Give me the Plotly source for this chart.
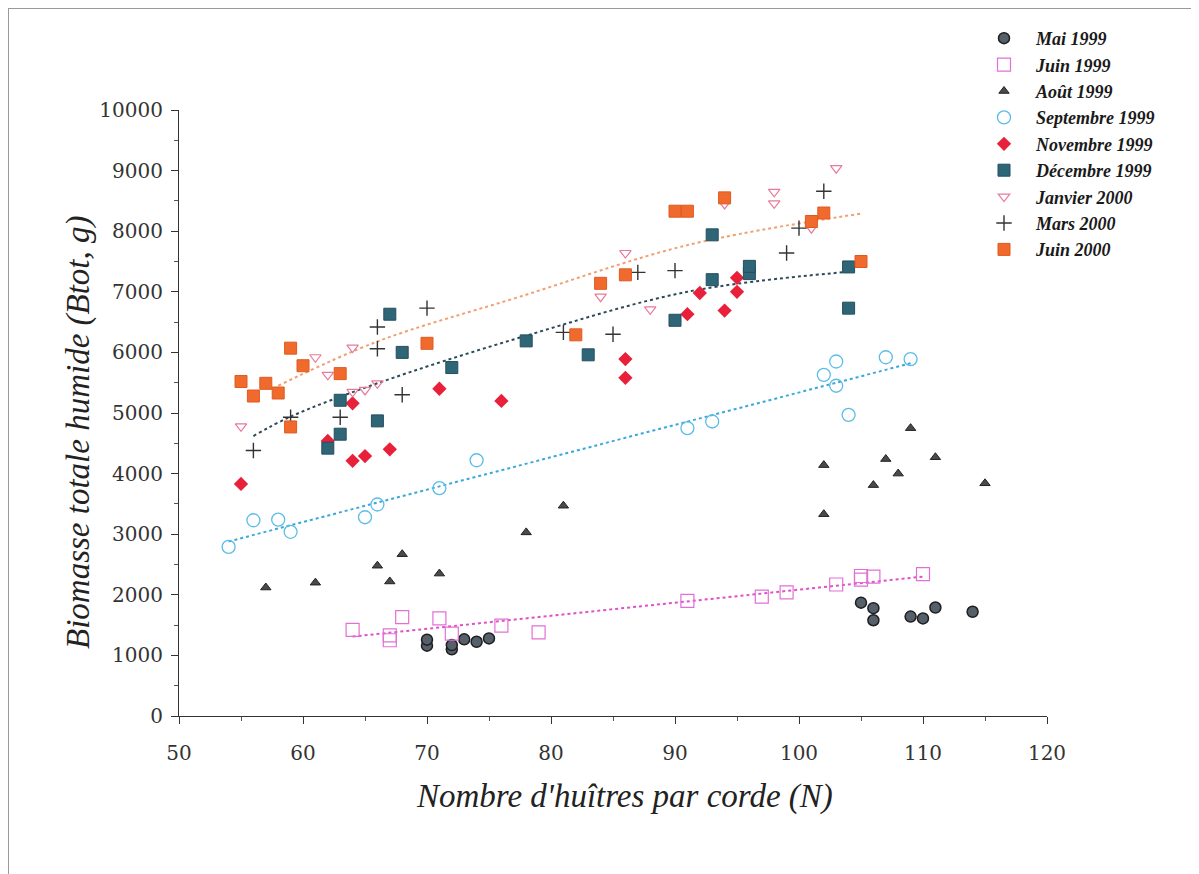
import plotly.graph_objects as go

# ---- data ----
mai99_x = [70, 70, 72, 72, 73, 74, 75, 105, 106, 106, 109, 110, 111, 114]
mai99_y = [1160, 1260, 1100, 1170, 1265, 1225, 1280, 1870, 1780, 1580, 1640, 1610, 1790, 1720]

juin99_x = [64, 67, 67, 68, 71, 72, 76, 79, 91, 97, 99, 103, 105, 105, 106, 110]
juin99_y = [1420, 1250, 1330, 1630, 1610, 1360, 1490, 1380, 1900, 1970, 2040, 2170, 2250, 2310, 2300, 2340]

aout99_x = [57, 61, 66, 67, 68, 71, 78, 81, 102, 102, 106, 107, 108, 109, 111, 115]
aout99_y = [2120, 2200, 2480, 2220, 2670, 2350, 3030, 3470, 3330, 4140, 3810, 4240, 4000, 4750, 4270, 3840]

sept99_x = [54, 56, 58, 59, 65, 66, 71, 74, 91, 93, 102, 103, 103, 104, 107, 109]
sept99_y = [2790, 3230, 3240, 3040, 3280, 3490, 3760, 4220, 4750, 4860, 5630, 5850, 5450, 4970, 5920, 5890]

nov99_x = [55, 62, 64, 64, 65, 67, 71, 76, 86, 86, 91, 92, 94, 95, 95]
nov99_y = [3830, 4540, 4210, 5160, 4290, 4400, 5400, 5200, 5580, 5890, 6630, 6980, 6690, 7000, 7230]

dec99_x = [62, 63, 63, 66, 67, 68, 72, 78, 83, 90, 93, 93, 96, 96, 104, 104]
dec99_y = [4420, 4650, 5210, 4870, 6630, 6000, 5750, 6190, 5960, 6530, 7200, 7940, 7300, 7420, 7410, 6730]

jan00_x = [55, 61, 62, 64, 64, 65, 66, 84, 86, 88, 94, 98, 98, 101, 103]
jan00_y = [4780, 5920, 5630, 5350, 6080, 5380, 5490, 6920, 7640, 6710, 8450, 8460, 8650, 8050, 9040]

mars00_x = [56, 59, 63, 66, 66, 68, 70, 81, 85, 87, 90, 99, 100, 102]
mars00_y = [4380, 4930, 4930, 6060, 6420, 5300, 6730, 6330, 6300, 7320, 7350, 7640, 8050, 8660]

juin00_x = [55, 56, 57, 58, 59, 59, 60, 63, 70, 82, 84, 86, 90, 91, 94, 101, 102, 105]
juin00_y = [5520, 5280, 5490, 5330, 6070, 4770, 5780, 5650, 6150, 6290, 7140, 7280, 8330, 8330, 8550, 8160, 8300, 7500]

# trend lines
trend_juin99_x = [64, 110]
trend_juin99_y = [1310, 2300]
trend_sept99_x = [54, 109]
trend_sept99_y = [2880, 5820]
trend_dark_x = [56, 59, 66, 77.5, 91, 104]
trend_dark_y = [4620, 4940, 5490, 6245, 7000, 7330]
trend_orange_x = [58, 66, 77.5, 91, 105]
trend_orange_y = [5450, 6180, 6920, 7770, 8290]

x_ticks = [50, 60, 70, 80, 90, 100, 110, 120]
y_ticks = [0, 1000, 2000, 3000, 4000, 5000, 6000, 7000, 8000, 9000, 10000]

SERIF = "Liberation Serif"

fig = go.Figure()

# trend lines first (behind markers)
def trend(xs, ys, color):
    fig.add_trace(go.Scatter(x=xs, y=ys, mode="lines", showlegend=False, hoverinfo="skip",
                             line=dict(color=color, width=2, dash="dot", shape="spline")))

trend(trend_juin99_x, trend_juin99_y, "#e050c8")
trend(trend_sept99_x, trend_sept99_y, "#3aa8dc")
trend(trend_dark_x, trend_dark_y, "#2c4a5a")
trend(trend_orange_x, trend_orange_y, "#f0a070")

series = [
    ("Mai 1999", mai99_x, mai99_y, dict(symbol="circle", size=11, color="#56606a", line=dict(color="#1e1e1e", width=1.5))),
    ("Juin 1999", juin99_x, juin99_y, dict(symbol="square-open", size=13, color="#e36fd6", line=dict(width=1.2))),
    ("Août 1999", aout99_x, aout99_y, dict(symbol="triangle-up", size=9, color="#4a4a4a", line=dict(color="#222222", width=1))),
    ("Septembre 1999", sept99_x, sept99_y, dict(symbol="circle-open", size=13, color="#5bbde6", line=dict(width=1.3))),
    ("Novembre 1999", nov99_x, nov99_y, dict(symbol="diamond", size=11, color="#e8203a", line=dict(width=0))),
    ("Décembre 1999", dec99_x, dec99_y, dict(symbol="square", size=12, color="#2e6577", line=dict(color="#254f5e", width=1))),
    ("Janvier 2000", jan00_x, jan00_y, dict(symbol="triangle-down-open", size=10, color="#e87a9a", line=dict(width=1.2))),
    ("Mars 2000", mars00_x, mars00_y, dict(symbol="cross-thin-open", size=11, color="#333333", line=dict(color="#333333", width=1.4))),
    ("Juin 2000", juin00_x, juin00_y, dict(symbol="square", size=12, color="#f06a2e", line=dict(color="#e05a20", width=1))),
]

for i, (name, xs, ys, mk) in enumerate(series):
    fig.add_trace(go.Scatter(x=xs, y=ys, mode="markers", name=name, marker=mk,
                             legendgroup="g%d" % i))

# screen-pixel helpers: the page body adds an 8px offset; plot area spans
# screen x 179..1047 and screen y 110..716
def px(sx):
    return (sx - 179) / 868

def py(sy):
    return (716 - sy) / 606

fig.update_layout(
    width=1199, height=874,
    margin=dict(l=171, r=160, t=102, b=166),
    paper_bgcolor="white", plot_bgcolor="white",
    font=dict(family=SERIF, color="#222222"),
    showlegend=True,
    legend=dict(x=px(972), y=py(20), xanchor="left", yanchor="top",
                font=dict(family=SERIF, size=18, style="italic", weight="bold", color="#1a1a1a"),
                itemwidth=54, tracegroupgap=0, bgcolor="rgba(0,0,0,0)"),
    xaxis=dict(range=[50, 120], tickvals=x_ticks, showgrid=False, zeroline=False,
               showline=True, linecolor="#333333", linewidth=1.2,
               ticks="outside", ticklen=7, tickcolor="#333333", tickwidth=1,
               minor=dict(dtick=5, ticks="outside", ticklen=4, tickcolor="#555555"),
               tickfont=dict(family="DejaVu Serif", size=20, color="#333333"),
               ticklabelstandoff=12),
    yaxis=dict(range=[0, 10000], tickvals=y_ticks, tickformat="d", showgrid=False, zeroline=False,
               showline=True, linecolor="#333333", linewidth=1.2,
               ticks="outside", ticklen=7, tickcolor="#333333", tickwidth=1,
               minor=dict(dtick=500, ticks="outside", ticklen=4, tickcolor="#555555"),
               tickfont=dict(family="DejaVu Serif", size=20, color="#333333"),
               ticklabelstandoff=4),
    annotations=[
        dict(text="Nombre d'huîtres par corde (N)", xref="paper", yref="paper",
             x=px(624), y=py(796), xanchor="center", yanchor="middle",
             showarrow=False, font=dict(family=SERIF, size=33, style="italic", color="#222222")),
        dict(text="Biomasse totale humide (Btot, g)", xref="paper", yref="paper",
             x=px(78), y=py(432), xanchor="center", yanchor="middle",
             textangle=-90, showarrow=False,
             font=dict(family=SERIF, size=33, style="italic", color="#222222")),
    ],
    shapes=[
        dict(type="rect", xref="paper", yref="paper",
             x0=px(8), x1=px(1192), y0=py(900), y1=py(8),
             line=dict(color="#9a9a9a", width=2), fillcolor="rgba(0,0,0,0)", layer="below"),
    ],
)

fig.write_html("out.html")
